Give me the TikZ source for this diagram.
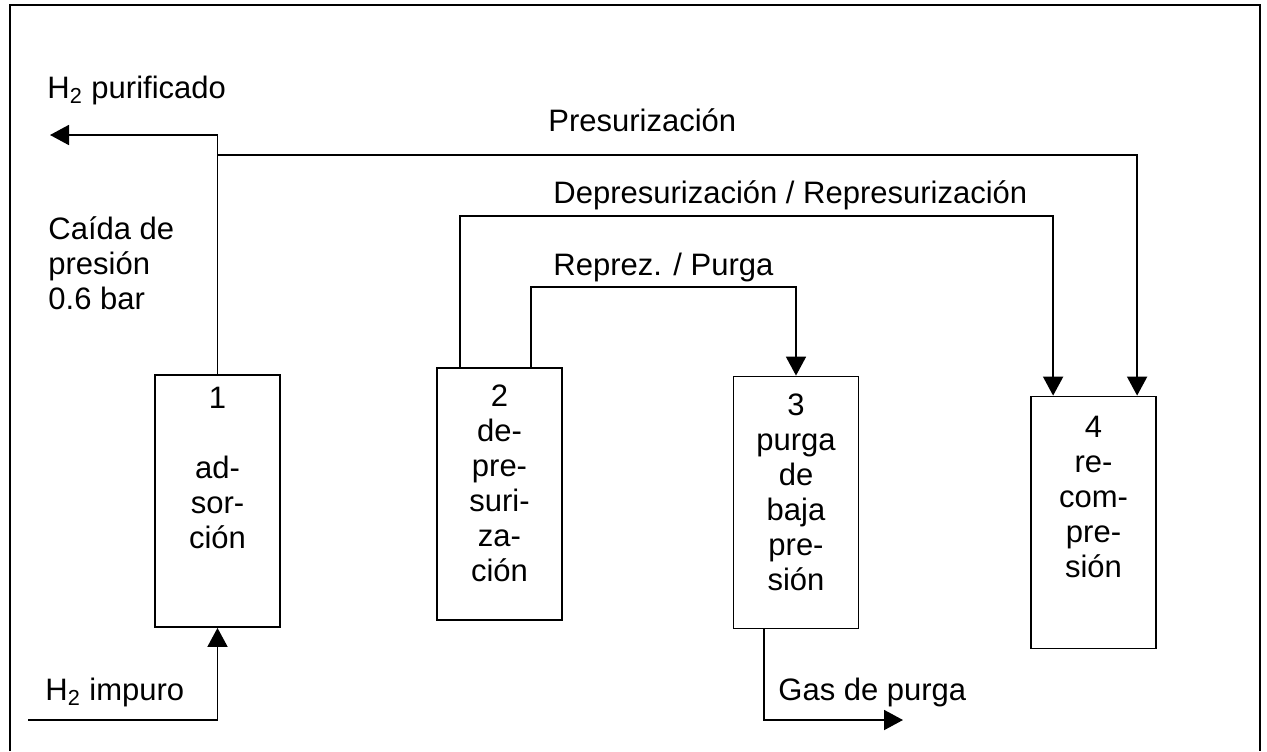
\documentclass[tikz,border=0pt]{standalone}
\usepackage{fontspec}
\setmainfont{Liberation Sans}
\usetikzlibrary{arrows.meta,positioning}
\tikzstyle{bed} = [rectangle, draw, line width=0.9pt, minimum width=62.5pt, minimum height=126pt, inner sep=0pt]
\tikzstyle{bedtext} = [anchor=north, align=center, inner sep=0pt, font=\fontsize{15.5}{17.5}\selectfont]
\tikzstyle{lbl} = [anchor=base west, inner sep=0pt, font=\fontsize{15.5}{17.5}\selectfont]
\tikzstyle{flow} = [line width=0.9pt, -{Triangle[length=9.5pt,width=10pt]}]
\tikzstyle{pipe} = [line width=0.9pt]

\begin{document}
\begin{tikzpicture}[x=0.5pt, y=-0.5pt]
\useasboundingbox (0,0) rectangle (1267,751);
% frame
\draw[line width=0.7pt] (10,751) -- (10,5) -- (1260,5) -- (1260,751);

% beds
\node[bed] (bed1) at (217.5,501) {};
\node[bed] (bed2) at (499.5,494) {};
\node[bed] (bed3) at (796,502.5) {};
\node[bed] (bed4) at (1093.5,522.5) {};

\node[bedtext, below=6.5pt of bed1.north] (txt1) {1\\[17.5pt]ad-\\sor-\\ción};
\node[bedtext, below=8.5pt of bed2.north] (txt2) {2\\de-\\pre-\\suri-\\za-\\ción};
\node[bedtext, below=9pt of bed3.north] (txt3) {3\\purga\\de\\baja\\pre-\\sión};
\node[bedtext, below=10pt of bed4.north] (txt4) {4\\re-\\com-\\pre-\\sión};

% labels
\node[lbl] (lpurif) at (47,98) {H\textsubscript{2} purificado};
\node[lbl] (lpres) at (548,131) {Presurización};
\node[lbl] (ldep) at (553,203) {Depresurización / Represurización};
\node[lbl] (lrep) at (553,275) {Reprez. / Purga};
\node[lbl, anchor=north west, align=left] (lcaida) at (48,216) {Caída de\\presión\\0.6 bar};
\node[lbl] (limp) at (45,700) {H\textsubscript{2} impuro};
\node[lbl] (lgas) at (778,700) {Gas de purga};

% route points
\coordinate (outH2) at (50,135);
\coordinate (inH2) at (28,720);
\coordinate (gasEnd) at (903,720);
\coordinate (rPres) at (0,155);
\coordinate (rDep) at (0,216);
\coordinate (rRep) at (0,287);
\coordinate (out2a) at ([xshift=12pt]bed2.north west);
\coordinate (out2b) at ([xshift=47.5pt]bed2.north west);
\coordinate (out3) at ([xshift=15.5pt]bed3.south west);
\coordinate (in4a) at ([xshift=11.5pt]bed4.north west);
\coordinate (in4b) at ([xshift=53.5pt]bed4.north west);

% connectors
\draw[flow] (bed1.north) |- (outH2);
\draw[flow] (bed1.north |- rPres) -| (in4b);
\draw[flow] (out2a) -- (out2a |- rDep) -| (in4a);
\draw[flow] (out2b) -- (out2b |- rRep) -| (bed3.north);
\draw[flow] (inH2) -| (bed1.south);
\draw[flow] (out3) |- (gasEnd);
\end{tikzpicture}
\end{document}
